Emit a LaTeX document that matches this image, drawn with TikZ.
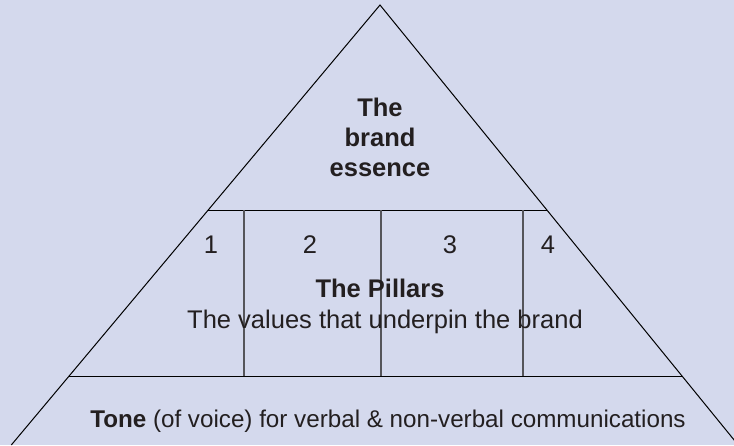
\documentclass[tikz,border=0pt]{standalone}
\usepackage{fontspec}
\setmainfont{Liberation Sans}
\definecolor{bgc}{RGB}{212,217,237}
\definecolor{txt}{RGB}{35,31,32}
\definecolor{divc}{RGB}{85,85,90}
\begin{document}
\begin{tikzpicture}[x=0.5pt,y=-0.5pt,
  lbl/.style={inner sep=0pt,anchor=base,text=txt,font=\fontsize{12.75}{15}\selectfont},
  lblb/.style={lbl,font=\fontsize{12.75}{15}\selectfont\bfseries},
  tonelbl/.style={inner sep=0pt,anchor=base,text=txt,font=\fontsize{12.1}{14}\selectfont},
  edge/.style={draw=black,line width=0.5pt},
  divider/.style={draw=divc,line width=0.6pt}]
\fill[bgc] (0,0) rectangle (734,445);
\useasboundingbox (0,0) rectangle (734,445);
% key points
\coordinate (apex) at (380,5);
\coordinate (bl) at (11.3,445);
\coordinate (br) at (738.2,445);
\coordinate (tl) at (208.2,210);
\coordinate (tr) at (546.9,210);
\coordinate (ml) at (69.1,376);
\coordinate (mr) at (682,376);
\coordinate (v1t) at (244,210);
\coordinate (v1b) at (244,376);
\coordinate (v2t) at (381,210);
\coordinate (v2b) at (381,376);
\coordinate (v3t) at (523,210);
\coordinate (v3b) at (523,376);
\begin{scope}
\clip (0,0) rectangle (734,445);
\draw[edge] (bl) -- (apex) -- (br);
\end{scope}
\draw[edge] (tl) -- (tr);
\draw[edge] (ml) -- (mr);
\draw[divider] (v1t) -- (v1b);
\draw[divider] (v2t) -- (v2b);
\draw[divider] (v3t) -- (v3b);
% texts
\node[lblb] (ess1) at (380,116) {The};
\node[lblb] (ess2) at (380,146) {brand};
\node[lblb] (ess3) at (380,176) {essence};
\node[lbl] (n1) at (211,253) {1};
\node[lbl] (n2) at (310,253) {2};
\node[lbl] (n3) at (450,253) {3};
\node[lbl] (n4) at (548,253) {4};
\node[lblb] (pil) at (380,297) {The Pillars};
\node[lbl] (val) at (385,328) {The values that underpin the brand};
\node[tonelbl] (tone) at (388,427) {\textbf{Tone} (of voice) for verbal \& non-verbal communications};
\end{tikzpicture}
\end{document}
